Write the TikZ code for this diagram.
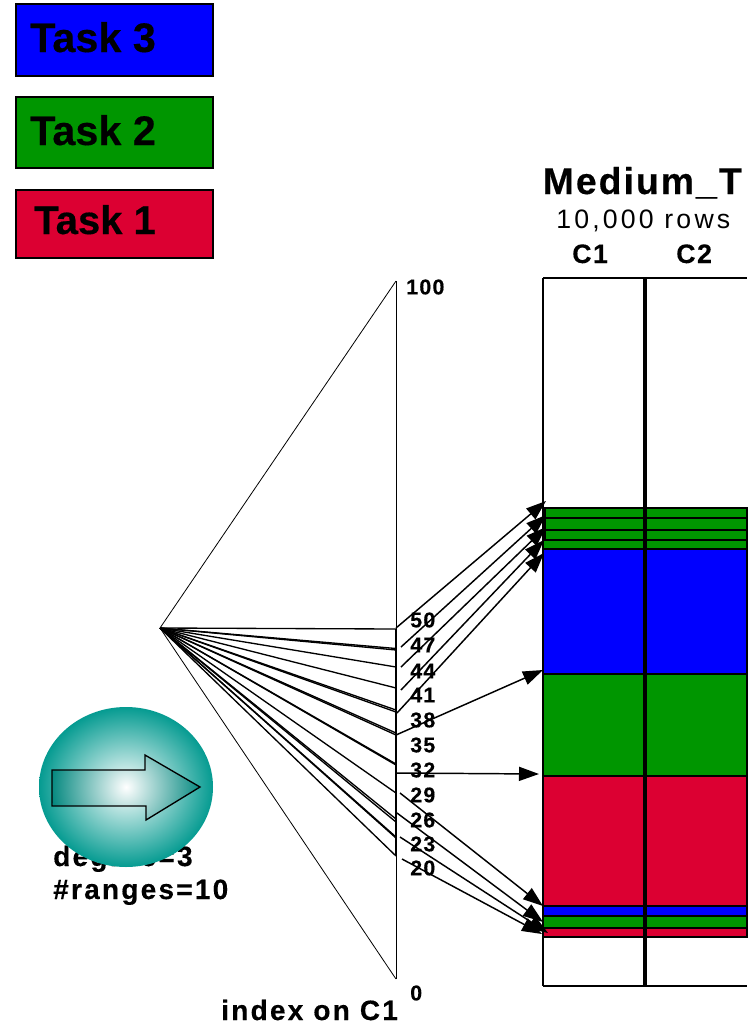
\documentclass[tikz,border=0pt]{standalone}
\usepackage{fontspec}
\setmainfont[BoldFeatures={FakeBold=0.35}]{Liberation Sans}
\newfontfamily\lsA[LetterSpace=6,BoldFeatures={FakeBold=0.35}]{Liberation Sans}
\newfontfamily\lsD[LetterSpace=8,BoldFeatures={FakeBold=0.35}]{Liberation Sans}
\newfontfamily\lsB[LetterSpace=5.5,BoldFeatures={FakeBold=0.35}]{Liberation Sans}
\newfontfamily\lsC[LetterSpace=12]{Liberation Sans}
\usetikzlibrary{arrows.meta}
\definecolor{tblue}{RGB}{0,0,255}
\definecolor{tgreen}{RGB}{0,150,0}
\definecolor{tred}{RGB}{220,0,50}
\definecolor{tteal}{RGB}{5,155,145}
\newcommand{\fsz}[1]{\fontsize{#1}{#1}\selectfont}
\tikzset{
 x=0.75pt,y=-0.75pt,
 legendbox/.style={draw=black,line width=1.6pt},
 legendtext/.style={font=\fsz{31}\bfseries,inner sep=0pt,anchor=base west},
 num/.style={font=\lsA\fsz{16}\bfseries,inner sep=0pt,anchor=west},
 bigtext/.style={font=\lsD\fsz{21}\bfseries,inner sep=0pt,anchor=base west},
 coltext/.style={font=\lsA\fsz{20}\bfseries,inner sep=0pt,anchor=base west},
 fan/.style={line width=1pt,black},
 thinline/.style={line width=0.6pt,black},
 arr/.style={line width=1.1pt,-{Triangle[length=15pt,width=10.5pt]}},
 band/.style={draw=black,line width=1.1pt},
}
\begin{document}
\begin{tikzpicture}
\useasboundingbox (0,0) rectangle (747,1025);
% legend
\filldraw[fill=tblue,legendbox] (16,4) rectangle (213,76);
\filldraw[fill=tgreen,legendbox] (16,97) rectangle (213,168);
\filldraw[fill=tred,legendbox] (16,190) rectangle (213,258);
\node[legendtext] (t3) at (30,52) {Task 3};
\node[legendtext] (t2) at (30,145) {Task 2};
\node[legendtext,font=\fsz{30}\bfseries] (t1) at (34,234) {Task 1};
% title
\node[font=\lsB\fsz{28}\bfseries,inner sep=0pt,anchor=base west] (title) at (542.5,194) {Medium\_T};
\node[font=\lsC\fsz{20},inner sep=0pt,anchor=base west] (rows) at (556,228) {10,000 rows};
\node[coltext] (c1) at (572,263) {C1};
\node[coltext] (c2) at (676,263) {C2};
% table
\draw[line width=1pt] (543,278) -- (543,986);
\draw[line width=1pt] (543,278) -- (747,278);
\draw[line width=1pt] (543,986) -- (747,986);
\foreach \a/\b/\c/\l in {508/518/tgreen/545,518/530/tgreen/545,530/540/tgreen/545,540/549/tgreen/543,549/674/tblue/543,674/776/tgreen/543,776/906/tred/543,906/916/tblue/543,916/928/tgreen/543,928/937/tred/543}{
 \filldraw[fill=\c,band] (\l,\a) rectangle (747,\b);
}
\draw[line width=2.3pt] (645,278) -- (645,986);
% index triangle
\coordinate (apex) at (160,628);
\coordinate (top) at (396,281);
\coordinate (bot) at (396,979);
\draw[thinline] (top) -- (apex) -- (bot);
\draw[thinline] (top) -- (bot);
\draw[line width=1.1pt] (396,629) -- (396,856);
% fan endpoints
\foreach \n/\y in {a/629,b/650,bb/648.5,c/667,d/688,e/712,ee/710,f/735,ff/733,g/765,gg/764,h/793,i/822,ii/819,j/838,jj/837,k/856}{
 \coordinate (f\n) at (396,\y);
 \draw[fan] (apex) -- (f\n);
}
\draw[fan] (fd) -- (fe);
% arrows
\coordinate (s1) at (396,628); \coordinate (e1) at (546,501);
\coordinate (s2) at (401,647); \coordinate (e2) at (546,515);
\coordinate (s3) at (401,667); \coordinate (e3) at (546,527);
\coordinate (s4) at (401,690); \coordinate (e4) at (544,540);
\coordinate (s5) at (397,713); \coordinate (e5) at (544,553);
\coordinate (s6) at (396,735); \coordinate (e6) at (543,670);
\coordinate (s7) at (396,773); \coordinate (e7) at (539,774);
\coordinate (s8) at (400,793); \coordinate (e8) at (543,906);
\coordinate (s9) at (397,813); \coordinate (e9) at (543,922);
\coordinate (s10) at (400,837); \coordinate (e10) at (548,933);
\coordinate (s11) at (402,859); \coordinate (e11) at (542,934);
\foreach \i in {1,...,11}{ \draw[arr] (s\i) -- (e\i); }
% numbers
\node[num] (n100) at (406,287) {100};
\node[num] (n0) at (410,993) {0};
\foreach \v/\y in {50/620,47/645,44/671,41/695,38/720,35/745,32/770,29/795,26/820,23/844,20/868}{
 \node[num] (n\v) at (410,\y) {\v};
}
\node[bigtext] (idx) at (221,1020) {index on C1};
% degree text under sphere
\node[bigtext] (deg) at (53,866) {degree=3};
\node[bigtext] (rng) at (53,899) {\#ranges=10};
% sphere
\shade[inner color=white,outer color=tteal] (126,787) ellipse [x radius=87,y radius=80];
% arrow
\begin{scope}
\clip (52,770) -- (145,770) -- (145,755) -- (200,787) -- (146,820) -- (146,806) -- (52,806) -- cycle;
\shade[inner color=white,outer color=tteal!88!black] (126,787) circle [radius=75];
\end{scope}
\draw[line width=1pt,black] (52,770) -- (145,770) -- (145,755) -- (200,787) -- (146,820) -- (146,806) -- (52,806) -- cycle;
\end{tikzpicture}
\end{document}
